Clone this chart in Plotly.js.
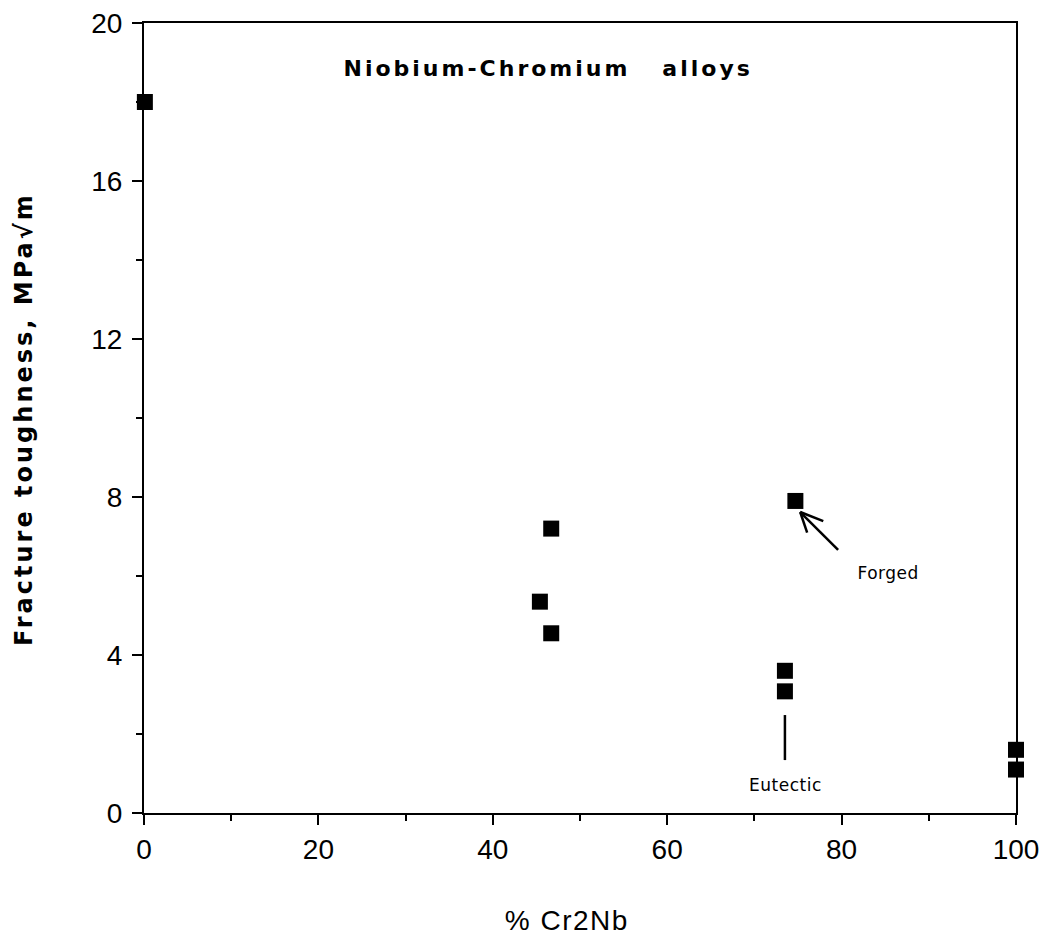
<!DOCTYPE html>
<html>
<head>
<meta charset="utf-8">
<script src="https://cdn.plot.ly/plotly-3.0.1.min.js"></script>
<style>
html,body{margin:0;padding:0;background:#fff;}
#chart{width:1044px;height:936px;}
g.annotation[data-index="0"] text{letter-spacing:3px;}
g.annotation[data-index="1"] text{letter-spacing:3px;}
g.annotation[data-index="2"] text{letter-spacing:1.5px;}
g.annotation[data-index="3"] text, g.annotation[data-index="4"] text{letter-spacing:0.5px;}
</style>
</head>
<body>
<div id="chart"></div>
<script>
// Data
const pctCr2Nb = [0.1, 46.7, 45.4, 46.7, 74.7, 73.5, 73.5, 100, 100];
const toughness = [18.0, 7.2, 5.35, 4.55, 7.9, 3.6, 3.08, 1.6, 1.1];
const xTickVals = [0, 20, 40, 60, 80, 100];
const yTickVals = [0, 4, 8, 12, 16, 20];

const trace = {
  x: pctCr2Nb, y: toughness, type: 'scatter', mode: 'markers',
  marker: {symbol: 'square', size: 16, color: '#000'},
  cliponaxis: false, showlegend: false, hoverinfo: 'x+y'
};

const tickFont = {family: 'Liberation Sans, Arial, sans-serif', size: 28, color: '#000'};
const lineStyle = {color: '#000', width: 2.5};

const layout = {
  width: 1044, height: 936,
  margin: {l: 144, r: 28, t: 23, b: 123},
  paper_bgcolor: '#fff', plot_bgcolor: '#fff',
  showlegend: false,
  xaxis: {
    range: [0, 100], tickvals: xTickVals, ticktext: xTickVals.map(String),
    ticks: 'outside', ticklen: 10, tickwidth: 2, tickcolor: '#000',
    minor: {dtick: 10, tick0: 0, ticks: 'outside', ticklen: 6, tickwidth: 2, tickcolor: '#000', showgrid: false},
    showline: true, linecolor: '#000', linewidth: 2, mirror: true,
    showgrid: false, zeroline: false, tickfont: tickFont
  },
  yaxis: {
    range: [0, 20], tickvals: yTickVals, ticktext: yTickVals.map(String),
    ticks: 'outside', ticklen: 10, tickwidth: 2, tickcolor: '#000', ticklabelstandoff: 4,
    minor: {dtick: 2, tick0: 0, ticks: 'outside', ticklen: 6, tickwidth: 2, tickcolor: '#000', showgrid: false},
    showline: true, linecolor: '#000', linewidth: 2, mirror: true,
    showgrid: false, zeroline: false, tickfont: tickFont
  },
  shapes: [
    // Eutectic pointer line
    {type: 'line', xref: 'x', yref: 'y', x0: 73.5, x1: 73.5, y0: 2.48, y1: 1.34, line: lineStyle},
    // Forged arrow: shaft and open head
    {type: 'line', xref: 'x', yref: 'y', x0: 79.6, y0: 6.66, x1: 75.25, y1: 7.62, line: lineStyle},
    {type: 'line', xref: 'x', yref: 'y', x0: 75.25, y0: 7.62, x1: 76.05, y1: 7.1, line: lineStyle},
    {type: 'line', xref: 'x', yref: 'y', x0: 75.25, y0: 7.62, x1: 77.9, y1: 7.39, line: lineStyle}
  ],
  annotations: [
    {text: 'Niobium-Chromium&nbsp;&nbsp;&nbsp;alloys', xref: 'x', yref: 'y', x: 46.3, y: 18.84,
     showarrow: false, font: {family: 'DejaVu Sans, sans-serif', size: 22, color: '#000', weight: 'bold'}},
    {text: 'Fracture toughness, MPa√m', xref: 'paper', yref: 'paper', x: 0, y: 0.498,
     xshift: -120, textangle: -90, showarrow: false, xanchor: 'center', yanchor: 'middle',
     font: {family: 'DejaVu Sans, sans-serif', size: 24, color: '#000', weight: 'bold'}},
    {text: '% Cr2Nb', xref: 'paper', yref: 'paper', x: 0.485, y: 0, yshift: -107,
     showarrow: false, xanchor: 'center', yanchor: 'middle',
     font: {family: 'Liberation Sans, Arial, sans-serif', size: 28, color: '#000'}},
    {text: 'Forged', xref: 'x', yref: 'y', x: 85.3, y: 6.08, showarrow: false,
     font: {family: 'DejaVu Sans, sans-serif', size: 17, color: '#000', weight: 500}},
    {text: 'Eutectic', xref: 'x', yref: 'y', x: 73.6, y: 0.71, showarrow: false,
     font: {family: 'DejaVu Sans, sans-serif', size: 17, color: '#000', weight: 500}}
  ]
};

Plotly.newPlot('chart', [trace], layout, {displayModeBar: false, staticPlot: true});
</script>
</body>
</html>
